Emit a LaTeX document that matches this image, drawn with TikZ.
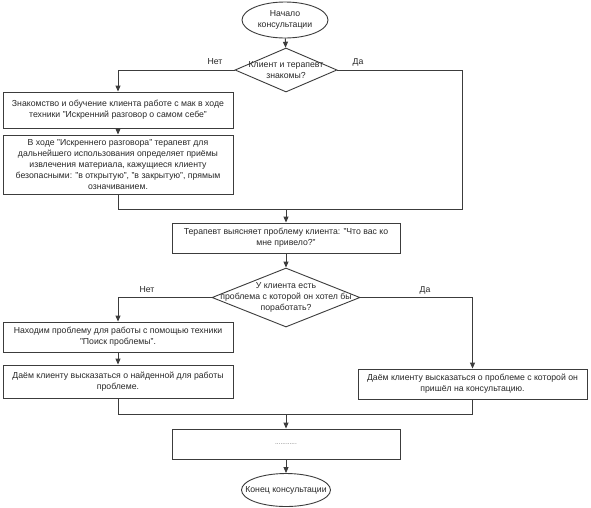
\documentclass[tikz,border=0pt]{standalone}
\usepackage{fontspec}
\setmainfont{Liberation Sans}
\usetikzlibrary{shapes.geometric,arrows.meta}
\definecolor{ln}{RGB}{60,60,60}
\definecolor{tx}{RGB}{40,40,40}
\tikzset{
  base/.style={draw=ln, line width=0.9pt, text=tx, font=\fontsize{8.7}{11}\selectfont, align=center, inner sep=1pt},
  box/.style={base, rectangle},
  oval/.style={draw=ln, line width=0.9pt, ellipse, inner sep=0pt},
  dia/.style={draw=ln, line width=0.9pt, diamond, inner sep=0pt},
  txt/.style={text=tx, font=\fontsize{8.7}{11}\selectfont, align=center, inner sep=0pt},
  conn/.style={draw=ln, line width=0.9pt},
  arr/.style={conn, -{Triangle[length=6pt,width=5pt]}},
  lbl/.style={txt}
}
\begin{document}
\begin{tikzpicture}[x=1pt,y=-1pt]
\useasboundingbox[fill=white] (0,0) rectangle (591,507);
% nodes
\node[oval, minimum width=86pt, minimum height=36pt] (start) at (285,20) {};
\node[txt] (startt) at (285,20) {Начало\\консультации};
\node[dia, minimum width=102pt, minimum height=44pt] (d1) at (286,70) {};
\node[txt] (d1t) at (286,70) {Клиент и терапевт\\знакомы?};
\node[box, minimum width=230pt, minimum height=36pt] (b1) at (118,110) {Знакомство и обучение клиента работе с мак в ходе\\техники "Искренний разговор о самом себе"};
\node[box, minimum width=230pt, minimum height=59pt] (b2) at (118,164.5) {В ходе "Искреннего разговора" терапевт для\\дальнейшего использования определяет приёмы\\извлечения материала, кажущиеся клиенту\\безопасными: "в открытую", "в закрытую", прямым\\означиванием.};
\node[box, minimum width=228pt, minimum height=30pt] (b3) at (286,238) {Терапевт выясняет проблему клиента: "Что вас ко\\мне привело?"};
\node[dia, minimum width=148pt, minimum height=59pt] (d2) at (286,297.5) {};
\node[txt] (d2t) at (286,297.5) {У клиента есть\\проблема с которой он хотел бы\\поработать?};
\node[box, minimum width=230pt, minimum height=30pt] (b4) at (118,337) {Находим проблему для работы с помощью техники\\"Поиск проблемы".};
\node[box, minimum width=230pt, minimum height=33pt] (b5) at (118,381.5) {Даём клиенту высказаться о найденной для работы\\проблеме.};
\node[box, minimum width=229pt, minimum height=30pt] (b6) at (472.5,384) {Даём клиенту высказаться о проблеме с которой он\\пришёл на консультацию.};
\node[box, minimum width=228pt, minimum height=30pt] (b7) at (286,444) {\textcolor{ln!75}{\fontsize{6.5}{7}\selectfont............}};
\node[oval, minimum width=89pt, minimum height=33pt] (end) at (286,490) {};
\node[txt] (endt) at (286,490) {Конец консультации};
% coordinates
\coordinate (r1) at (462,70);
\coordinate (m1) at (286,209);
\coordinate (m2) at (286,414);
% labels
\node[lbl] (n1) at (215,62) {Нет};
\node[lbl] (y1) at (358,62) {Да};
\node[lbl] (n2) at (147,290) {Нет};
\node[lbl] (y2) at (425,290) {Да};
% connectors
\draw[arr] (start) -- (d1);
\draw[arr] (d1.west) -| (b1.north);
\draw[arr] (b1) -- (b2);
\draw[conn] (d1.east) -- (r1) |- (m1);
\draw[conn] (b2.south) |- (m1);
\draw[arr] (m1) -- (b3.north);
\draw[arr] (b3) -- (d2);
\draw[arr] (d2.west) -| (b4.north);
\draw[arr] (b4) -- (b5);
\draw[arr] (d2.east) -| (b6.north);
\draw[conn] (b5.south) |- (m2);
\draw[conn] (b6.south) |- (m2);
\draw[arr] (m2) -- (b7.north);
\draw[arr] (b7) -- (end);
\end{tikzpicture}
\end{document}
